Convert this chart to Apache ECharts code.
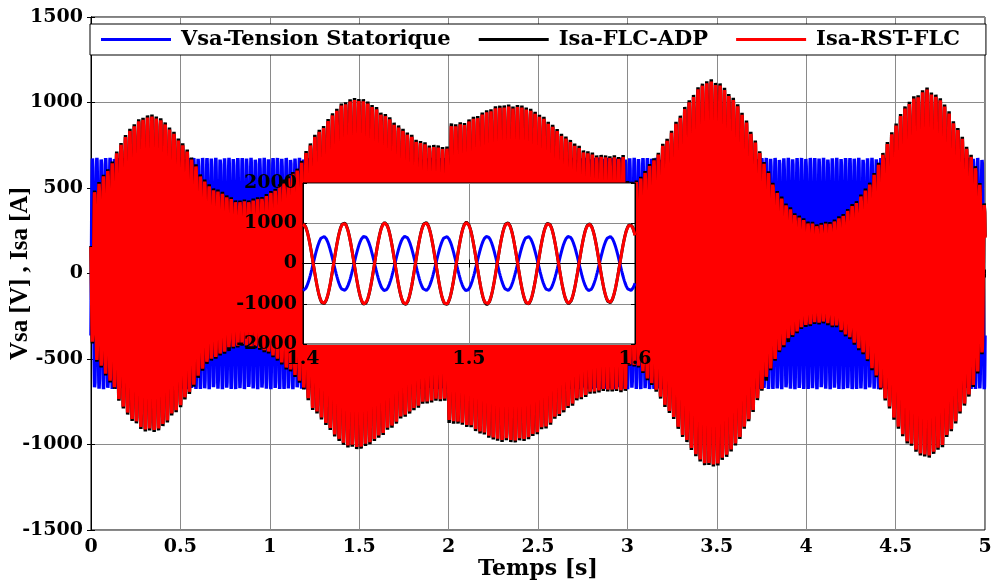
<!DOCTYPE html>
<html>
<head>
<meta charset="utf-8">
<script src="https://cdn.jsdelivr.net/npm/echarts@6/dist/echarts.min.js"></script>
<style>
html,body{margin:0;padding:0;background:#fff;}
#chart{width:993px;height:583px;}
</style>
</head>
<body>
<div id="chart"></div>
<script>
// ---- values ----
const seriesNames = ['Vsa-Tension Statorique', 'Isa-FLC-ADP', 'Isa-RST-FLC'];
const xTicks = [0, 0.5, 1, 1.5, 2, 2.5, 3, 3.5, 4, 4.5, 5];
const yTicks = [-1500, -1000, -500, 0, 500, 1000, 1500];
const insetXTicks = [1.4, 1.5, 1.6];
const insetYTicks = [-2000, -1000, 0, 1000, 2000];

// oscillation frequency (8 periods in ~0.197 s)
const carrierHz = 40.6;
// stator voltage peak (constant)
const vsaPeak = 676;
// envelope (peak value) of the two stator currents, read along the time axis
const envTime = [0.000,0.013,0.050,0.090,0.125,0.160,0.210,0.250,0.290,0.340,0.370,0.405,0.440,0.490,0.535,0.570,0.620,0.665,0.720,0.780,0.830,0.890,0.945,0.985,1.040,1.085,1.130,1.170,1.240,1.300,1.355,1.380,1.420,1.470,1.500,1.540,1.590,1.635,1.680,1.730,1.785,1.840,1.895,1.950,1.993,1.998,2.045,2.100,2.155,2.210,2.270,2.325,2.380,2.435,2.490,2.550,2.605,2.660,2.715,2.770,2.830,2.885,2.940,2.995,3.000,3.050,3.080,3.107,3.136,3.164,3.182,3.210,3.240,3.270,3.310,3.360,3.405,3.460,3.510,3.555,3.610,3.660,3.705,3.740,3.790,3.835,3.890,3.945,4.000,4.060,4.115,4.170,4.225,4.280,4.340,4.395,4.430,4.470,4.505,4.550,4.600,4.645,4.675,4.710,4.760,4.805,4.850,4.895,4.945,4.990,5.000];
const envADP = [300,480,545,610,665,755,838,886,922,930,925,896,857,798,730,672,574,516,487,448,430,436,448,467,506,555,594,643,798,867,944,974,1013,1026,1030,1013,978,944,906,857,818,779,756,748,742,880,877,896,925,954,982,988,988,978,944,906,847,798,756,720,697,690,691,697,540,545,570,618,656,695,725,783,822,884,958,1036,1104,1138,1122,1073,1005,908,805,715,596,489,411,353,313,298,304,323,372,430,508,620,715,805,888,976,1034,1069,1089,1058,1019,937,849,752,645,450,400];
const envRST = [290,470,535,600,655,745,826,874,910,918,913,884,845,786,718,660,562,505,476,437,420,425,437,456,495,544,583,632,786,855,932,962,1001,1014,1018,1001,966,932,894,845,806,767,744,736,730,862,865,884,913,942,970,976,976,966,932,894,835,786,744,708,686,679,680,686,530,535,560,607,645,684,714,771,810,872,946,1024,1092,1126,1110,1061,993,896,793,704,585,478,400,342,302,287,293,312,361,419,497,609,704,793,876,964,1022,1057,1077,1046,1007,925,837,740,633,440,390];

// ---- build the traces ----
function envAt(t, vals) {
  if (t <= envTime[0]) return vals[0];
  for (let i = 1; i < envTime.length; i++) {
    if (t <= envTime[i]) {
      const a = envTime[i - 1], b = envTime[i];
      const f = (t - a) / (b - a);
      return vals[i - 1] + f * (vals[i] - vals[i - 1]);
    }
  }
  return vals[vals.length - 1];
}
function buildTraces(t0, t1, dt) {
  const v = [], a = [], r = [];
  const n = Math.round((t1 - t0) / dt);
  for (let k = 0; k <= n; k++) {
    const t = t0 + k * dt;
    const c = Math.cos(2 * Math.PI * carrierHz * (t - 1.4));
    v.push([t, -vsaPeak * c]);
    a.push([t, envAt(t, envADP) * c]);
    r.push([t, envAt(t, envRST) * c]);
  }
  return { v, a, r };
}
const mainData = buildTraces(0, 5, 0.001);
const insetData = buildTraces(1.4, 1.6, 0.0004);

const FONT = 'DejaVu Serif';
const tickLabel = { fontFamily: FONT, fontWeight: 'bold', fontSize: 19, color: '#000' };
const gridLineColor = '#8a8a8a';
const tick = { show: true, inside: true, length: 4, lineStyle: { color: '#000' } };
const axLine = { show: true, lineStyle: { color: '#000', width: 1 } };
const mainWidth = 3.5;

const chart = echarts.init(document.getElementById('chart'), null, { renderer: 'canvas' });
const option = {
  animation: false,
  backgroundColor: '#fff',
  legend: {
    data: seriesNames,
    left: 90, top: 24,
    orient: 'horizontal',
    backgroundColor: '#fff',
    borderColor: '#000', borderWidth: 1,
    padding: [5, 26, 5, 11],
    itemWidth: 70, itemHeight: 3, itemGap: 28,
    icon: 'rect',
    textStyle: { fontFamily: FONT, fontWeight: 'bold', fontSize: 21, color: '#000', padding: [0, 0, 0, 5] },
    z: 20
  },
  grid: [
    { left: 91, top: 17, width: 894, height: 513, show: true, borderColor: '#000', borderWidth: 1, backgroundColor: '#fff', containLabel: false, outerBoundsMode: 'none' },
    { left: 303, top: 183, width: 332, height: 161, show: true, borderColor: '#000', borderWidth: 1, backgroundColor: '#fff', z: 10, containLabel: false, outerBoundsMode: 'none' }
  ],
  xAxis: [
    { type: 'value', gridIndex: 0, min: xTicks[0], max: xTicks[xTicks.length - 1], interval: 0.5,
      axisLine: axLine, axisTick: tick,
      axisLabel: Object.assign({ margin: 8, formatter: v => String(v) }, tickLabel),
      splitLine: { show: true, lineStyle: { color: gridLineColor, width: 1 } },
      name: 'Temps [s]', nameLocation: 'middle', nameGap: 28, nameMoveOverlap: false,
      nameTextStyle: { fontFamily: FONT, fontWeight: 'bold', fontSize: 22, color: '#000' } },
    { type: 'value', gridIndex: 0, position: 'top', min: 0, max: 5, interval: 0.5,
      axisLine: axLine, axisTick: tick, axisLabel: { show: false }, splitLine: { show: false } },
    { type: 'value', gridIndex: 1, min: insetXTicks[0], max: insetXTicks[insetXTicks.length - 1], interval: 0.1, z: 11,
      axisLine: axLine, axisTick: tick,
      axisLabel: Object.assign({ margin: 6, formatter: v => v.toFixed(1) }, tickLabel),
      splitLine: { show: true, lineStyle: { color: gridLineColor } } },
    { type: 'value', gridIndex: 1, position: 'top', min: 1.4, max: 1.6, interval: 0.1, z: 11,
      axisLine: axLine, axisTick: tick, axisLabel: { show: false }, splitLine: { show: false } }
  ],
  yAxis: [
    { type: 'value', gridIndex: 0, min: yTicks[0], max: yTicks[yTicks.length - 1], interval: 500,
      axisLine: axLine, axisTick: tick,
      axisLabel: Object.assign({ margin: 8, formatter: v => String(v) }, tickLabel),
      splitLine: { show: true, lineStyle: { color: gridLineColor } },
      name: 'Vsa [V] , Isa [A]', nameLocation: 'middle', nameGap: 58, nameMoveOverlap: false,
      nameTextStyle: { fontFamily: 'Liberation Serif', fontWeight: 'bold', fontSize: 25, color: '#000' } },
    { type: 'value', gridIndex: 0, position: 'right', min: -1500, max: 1500, interval: 500,
      axisLine: axLine, axisTick: tick, axisLabel: { show: false }, splitLine: { show: false } },
    { type: 'value', gridIndex: 1, min: insetYTicks[0], max: insetYTicks[insetYTicks.length - 1], interval: 1000, z: 11,
      axisLine: axLine, axisTick: tick,
      axisLabel: Object.assign({ margin: 6, formatter: v => String(v) }, tickLabel),
      splitLine: { show: true, lineStyle: { color: gridLineColor } } },
    { type: 'value', gridIndex: 1, position: 'right', min: -2000, max: 2000, interval: 1000, z: 11,
      axisLine: axLine, axisTick: tick, axisLabel: { show: false }, splitLine: { show: false } }
  ],
  series: [
    { name: seriesNames[0], type: 'line', xAxisIndex: 0, yAxisIndex: 0, data: mainData.v,
      showSymbol: false, symbol: 'none', lineStyle: { color: '#0000ff', width: mainWidth }, itemStyle: { color: '#0000ff' } },
    { name: seriesNames[1], type: 'line', xAxisIndex: 0, yAxisIndex: 0, data: mainData.a,
      showSymbol: false, symbol: 'none', lineStyle: { color: '#000000', width: mainWidth }, itemStyle: { color: '#000000' } },
    { name: seriesNames[2], type: 'line', xAxisIndex: 0, yAxisIndex: 0, data: mainData.r,
      showSymbol: false, symbol: 'none', lineStyle: { color: '#ff0000', width: mainWidth }, itemStyle: { color: '#ff0000' } },
    { name: seriesNames[0], type: 'line', xAxisIndex: 2, yAxisIndex: 2, data: insetData.v, z: 12,
      showSymbol: false, symbol: 'none', lineStyle: { color: '#0000ff', width: 3 }, itemStyle: { color: '#0000ff' } },
    { name: seriesNames[1], type: 'line', xAxisIndex: 2, yAxisIndex: 2, data: insetData.a, z: 12,
      showSymbol: false, symbol: 'none', lineStyle: { color: '#000000', width: 3 }, itemStyle: { color: '#000000' } },
    { name: seriesNames[2], type: 'line', xAxisIndex: 2, yAxisIndex: 2, data: insetData.r, z: 12,
      showSymbol: false, symbol: 'none', lineStyle: { color: '#ff0000', width: 3 }, itemStyle: { color: '#ff0000' } }
  ]
};
chart.setOption(option);
</script>
</body>
</html>
